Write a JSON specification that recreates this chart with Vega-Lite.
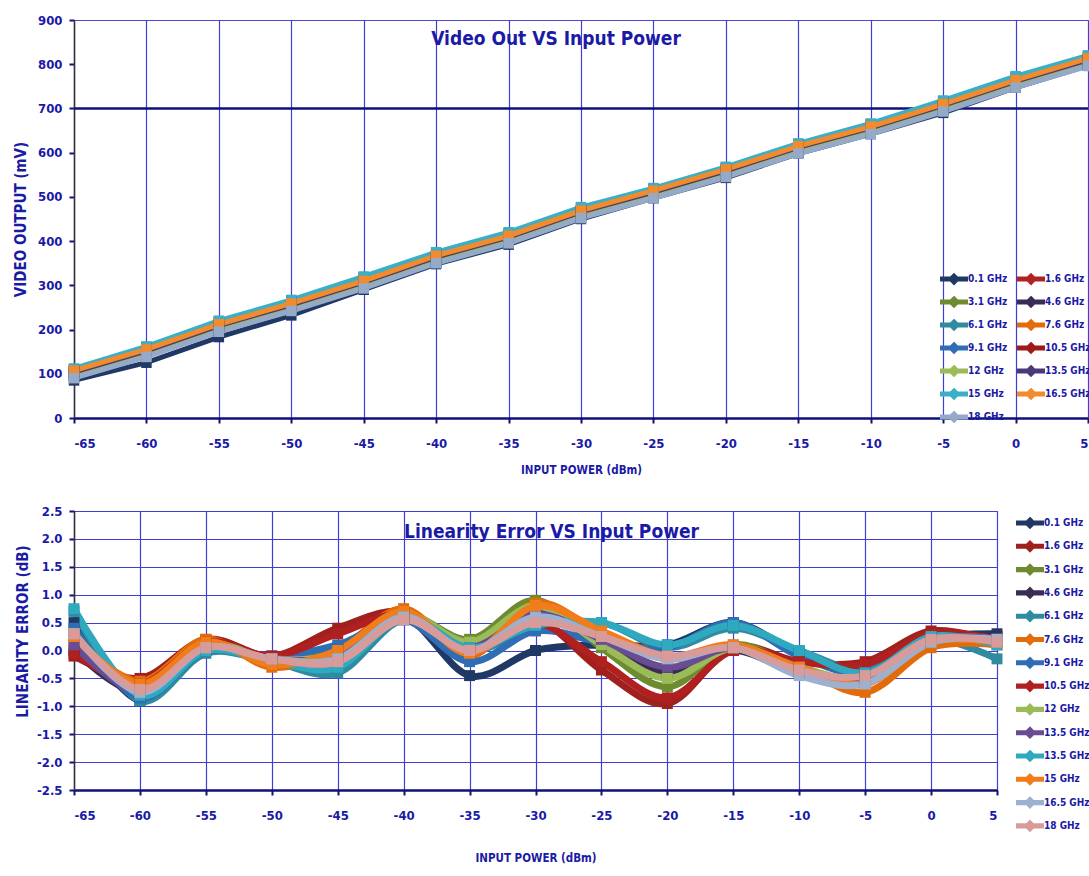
{
  "$schema": "https://vega.github.io/schema/vega-lite/v6.json",
  "background": "white",
  "padding": {"left": 13, "top": 13, "right": 0, "bottom": 0},
  "bounds": "flush",
  "spacing": 93,
  "datasets": {
    "video": [
      {"f":"0.1 GHz","p":-65,"v":85},{"f":"0.1 GHz","p":-60,"v":125},{"f":"0.1 GHz","p":-55,"v":183},{"f":"0.1 GHz","p":-50,"v":232},{"f":"0.1 GHz","p":-45,"v":290},{"f":"0.1 GHz","p":-40,"v":348},{"f":"0.1 GHz","p":-35,"v":392},{"f":"0.1 GHz","p":-30,"v":450},{"f":"0.1 GHz","p":-25,"v":497},{"f":"0.1 GHz","p":-20,"v":543},{"f":"0.1 GHz","p":-15,"v":598},{"f":"0.1 GHz","p":-10,"v":642},{"f":"0.1 GHz","p":-5,"v":690},{"f":"0.1 GHz","p":0,"v":747},{"f":"0.1 GHz","p":5,"v":797},
      {"f":"1.6 GHz","p":-65,"v":110},{"f":"1.6 GHz","p":-60,"v":160},{"f":"1.6 GHz","p":-55,"v":218},{"f":"1.6 GHz","p":-50,"v":265},{"f":"1.6 GHz","p":-45,"v":318},{"f":"1.6 GHz","p":-40,"v":372},{"f":"1.6 GHz","p":-35,"v":416},{"f":"1.6 GHz","p":-30,"v":474},{"f":"1.6 GHz","p":-25,"v":518},{"f":"1.6 GHz","p":-20,"v":566},{"f":"1.6 GHz","p":-15,"v":619},{"f":"1.6 GHz","p":-10,"v":664},{"f":"1.6 GHz","p":-5,"v":716},{"f":"1.6 GHz","p":0,"v":770},{"f":"1.6 GHz","p":5,"v":818},
      {"f":"3.1 GHz","p":-65,"v":97},{"f":"3.1 GHz","p":-60,"v":145},{"f":"3.1 GHz","p":-55,"v":202},{"f":"3.1 GHz","p":-50,"v":249},{"f":"3.1 GHz","p":-45,"v":300},{"f":"3.1 GHz","p":-40,"v":357},{"f":"3.1 GHz","p":-35,"v":402},{"f":"3.1 GHz","p":-30,"v":459},{"f":"3.1 GHz","p":-25,"v":504},{"f":"3.1 GHz","p":-20,"v":552},{"f":"3.1 GHz","p":-15,"v":605},{"f":"3.1 GHz","p":-10,"v":649},{"f":"3.1 GHz","p":-5,"v":700},{"f":"3.1 GHz","p":0,"v":754},{"f":"3.1 GHz","p":5,"v":803},
      {"f":"4.6 GHz","p":-65,"v":102},{"f":"4.6 GHz","p":-60,"v":150},{"f":"4.6 GHz","p":-55,"v":207},{"f":"4.6 GHz","p":-50,"v":254},{"f":"4.6 GHz","p":-45,"v":305},{"f":"4.6 GHz","p":-40,"v":362},{"f":"4.6 GHz","p":-35,"v":407},{"f":"4.6 GHz","p":-30,"v":464},{"f":"4.6 GHz","p":-25,"v":509},{"f":"4.6 GHz","p":-20,"v":557},{"f":"4.6 GHz","p":-15,"v":610},{"f":"4.6 GHz","p":-10,"v":654},{"f":"4.6 GHz","p":-5,"v":705},{"f":"4.6 GHz","p":0,"v":759},{"f":"4.6 GHz","p":5,"v":808},
      {"f":"6.1 GHz","p":-65,"v":95},{"f":"6.1 GHz","p":-60,"v":143},{"f":"6.1 GHz","p":-55,"v":200},{"f":"6.1 GHz","p":-50,"v":247},{"f":"6.1 GHz","p":-45,"v":298},{"f":"6.1 GHz","p":-40,"v":355},{"f":"6.1 GHz","p":-35,"v":400},{"f":"6.1 GHz","p":-30,"v":457},{"f":"6.1 GHz","p":-25,"v":502},{"f":"6.1 GHz","p":-20,"v":550},{"f":"6.1 GHz","p":-15,"v":603},{"f":"6.1 GHz","p":-10,"v":647},{"f":"6.1 GHz","p":-5,"v":698},{"f":"6.1 GHz","p":0,"v":752},{"f":"6.1 GHz","p":5,"v":801},
      {"f":"7.6 GHz","p":-65,"v":106},{"f":"7.6 GHz","p":-60,"v":154},{"f":"7.6 GHz","p":-55,"v":211},{"f":"7.6 GHz","p":-50,"v":258},{"f":"7.6 GHz","p":-45,"v":309},{"f":"7.6 GHz","p":-40,"v":366},{"f":"7.6 GHz","p":-35,"v":411},{"f":"7.6 GHz","p":-30,"v":468},{"f":"7.6 GHz","p":-25,"v":513},{"f":"7.6 GHz","p":-20,"v":561},{"f":"7.6 GHz","p":-15,"v":614},{"f":"7.6 GHz","p":-10,"v":658},{"f":"7.6 GHz","p":-5,"v":709},{"f":"7.6 GHz","p":0,"v":763},{"f":"7.6 GHz","p":5,"v":812},
      {"f":"9.1 GHz","p":-65,"v":92},{"f":"9.1 GHz","p":-60,"v":140},{"f":"9.1 GHz","p":-55,"v":197},{"f":"9.1 GHz","p":-50,"v":244},{"f":"9.1 GHz","p":-45,"v":295},{"f":"9.1 GHz","p":-40,"v":352},{"f":"9.1 GHz","p":-35,"v":397},{"f":"9.1 GHz","p":-30,"v":454},{"f":"9.1 GHz","p":-25,"v":499},{"f":"9.1 GHz","p":-20,"v":547},{"f":"9.1 GHz","p":-15,"v":600},{"f":"9.1 GHz","p":-10,"v":644},{"f":"9.1 GHz","p":-5,"v":695},{"f":"9.1 GHz","p":0,"v":749},{"f":"9.1 GHz","p":5,"v":798},
      {"f":"10.5 GHz","p":-65,"v":108},{"f":"10.5 GHz","p":-60,"v":156},{"f":"10.5 GHz","p":-55,"v":213},{"f":"10.5 GHz","p":-50,"v":260},{"f":"10.5 GHz","p":-45,"v":311},{"f":"10.5 GHz","p":-40,"v":368},{"f":"10.5 GHz","p":-35,"v":413},{"f":"10.5 GHz","p":-30,"v":470},{"f":"10.5 GHz","p":-25,"v":515},{"f":"10.5 GHz","p":-20,"v":563},{"f":"10.5 GHz","p":-15,"v":616},{"f":"10.5 GHz","p":-10,"v":660},{"f":"10.5 GHz","p":-5,"v":711},{"f":"10.5 GHz","p":0,"v":765},{"f":"10.5 GHz","p":5,"v":814},
      {"f":"12 GHz","p":-65,"v":98},{"f":"12 GHz","p":-60,"v":146},{"f":"12 GHz","p":-55,"v":203},{"f":"12 GHz","p":-50,"v":250},{"f":"12 GHz","p":-45,"v":301},{"f":"12 GHz","p":-40,"v":358},{"f":"12 GHz","p":-35,"v":403},{"f":"12 GHz","p":-30,"v":460},{"f":"12 GHz","p":-25,"v":505},{"f":"12 GHz","p":-20,"v":553},{"f":"12 GHz","p":-15,"v":606},{"f":"12 GHz","p":-10,"v":650},{"f":"12 GHz","p":-5,"v":701},{"f":"12 GHz","p":0,"v":755},{"f":"12 GHz","p":5,"v":804},
      {"f":"13.5 GHz","p":-65,"v":104},{"f":"13.5 GHz","p":-60,"v":152},{"f":"13.5 GHz","p":-55,"v":209},{"f":"13.5 GHz","p":-50,"v":256},{"f":"13.5 GHz","p":-45,"v":307},{"f":"13.5 GHz","p":-40,"v":364},{"f":"13.5 GHz","p":-35,"v":409},{"f":"13.5 GHz","p":-30,"v":466},{"f":"13.5 GHz","p":-25,"v":511},{"f":"13.5 GHz","p":-20,"v":559},{"f":"13.5 GHz","p":-15,"v":612},{"f":"13.5 GHz","p":-10,"v":656},{"f":"13.5 GHz","p":-5,"v":707},{"f":"13.5 GHz","p":0,"v":761},{"f":"13.5 GHz","p":5,"v":810},
      {"f":"15 GHz","p":-65,"v":112},{"f":"15 GHz","p":-60,"v":162},{"f":"15 GHz","p":-55,"v":220},{"f":"15 GHz","p":-50,"v":267},{"f":"15 GHz","p":-45,"v":320},{"f":"15 GHz","p":-40,"v":375},{"f":"15 GHz","p":-35,"v":420},{"f":"15 GHz","p":-30,"v":477},{"f":"15 GHz","p":-25,"v":520},{"f":"15 GHz","p":-20,"v":568},{"f":"15 GHz","p":-15,"v":621},{"f":"15 GHz","p":-10,"v":666},{"f":"15 GHz","p":-5,"v":718},{"f":"15 GHz","p":0,"v":773},{"f":"15 GHz","p":5,"v":820},
      {"f":"16.5 GHz","p":-65,"v":107},{"f":"16.5 GHz","p":-60,"v":155},{"f":"16.5 GHz","p":-55,"v":212},{"f":"16.5 GHz","p":-50,"v":259},{"f":"16.5 GHz","p":-45,"v":310},{"f":"16.5 GHz","p":-40,"v":367},{"f":"16.5 GHz","p":-35,"v":412},{"f":"16.5 GHz","p":-30,"v":469},{"f":"16.5 GHz","p":-25,"v":514},{"f":"16.5 GHz","p":-20,"v":562},{"f":"16.5 GHz","p":-15,"v":615},{"f":"16.5 GHz","p":-10,"v":659},{"f":"16.5 GHz","p":-5,"v":710},{"f":"16.5 GHz","p":0,"v":764},{"f":"16.5 GHz","p":5,"v":813},
      {"f":"18 GHz","p":-65,"v":90},{"f":"18 GHz","p":-60,"v":138},{"f":"18 GHz","p":-55,"v":195},{"f":"18 GHz","p":-50,"v":242},{"f":"18 GHz","p":-45,"v":293},{"f":"18 GHz","p":-40,"v":350},{"f":"18 GHz","p":-35,"v":395},{"f":"18 GHz","p":-30,"v":452},{"f":"18 GHz","p":-25,"v":497},{"f":"18 GHz","p":-20,"v":545},{"f":"18 GHz","p":-15,"v":598},{"f":"18 GHz","p":-10,"v":642},{"f":"18 GHz","p":-5,"v":693},{"f":"18 GHz","p":0,"v":747},{"f":"18 GHz","p":5,"v":796}
    ],
    "lin": [
      {"s":"0.1 GHz","p":-65,"e":0.5},{"s":"0.1 GHz","p":-60,"e":-0.9},{"s":"0.1 GHz","p":-55,"e":0.0},{"s":"0.1 GHz","p":-50,"e":-0.15},{"s":"0.1 GHz","p":-45,"e":0.05},{"s":"0.1 GHz","p":-40,"e":0.6},{"s":"0.1 GHz","p":-35,"e":-0.45},{"s":"0.1 GHz","p":-30,"e":0.0},{"s":"0.1 GHz","p":-25,"e":0.1},{"s":"0.1 GHz","p":-20,"e":0.1},{"s":"0.1 GHz","p":-15,"e":0.5},{"s":"0.1 GHz","p":-10,"e":-0.05},{"s":"0.1 GHz","p":-5,"e":-0.4},{"s":"0.1 GHz","p":0,"e":0.2},{"s":"0.1 GHz","p":5,"e":0.3},
      {"s":"1.6 GHz","p":-65,"e":-0.1},{"s":"1.6 GHz","p":-60,"e":-0.5},{"s":"1.6 GHz","p":-55,"e":0.2},{"s":"1.6 GHz","p":-50,"e":-0.1},{"s":"1.6 GHz","p":-45,"e":0.4},{"s":"1.6 GHz","p":-40,"e":0.7},{"s":"1.6 GHz","p":-35,"e":0.05},{"s":"1.6 GHz","p":-30,"e":0.55},{"s":"1.6 GHz","p":-25,"e":-0.35},{"s":"1.6 GHz","p":-20,"e":-0.95},{"s":"1.6 GHz","p":-15,"e":0.05},{"s":"1.6 GHz","p":-10,"e":-0.2},{"s":"1.6 GHz","p":-5,"e":-0.2},{"s":"1.6 GHz","p":0,"e":0.35},{"s":"1.6 GHz","p":5,"e":0.15},
      {"s":"3.1 GHz","p":-65,"e":0.3},{"s":"3.1 GHz","p":-60,"e":-0.7},{"s":"3.1 GHz","p":-55,"e":0.1},{"s":"3.1 GHz","p":-50,"e":-0.15},{"s":"3.1 GHz","p":-45,"e":0.0},{"s":"3.1 GHz","p":-40,"e":0.65},{"s":"3.1 GHz","p":-35,"e":0.2},{"s":"3.1 GHz","p":-30,"e":0.9},{"s":"3.1 GHz","p":-25,"e":0.05},{"s":"3.1 GHz","p":-20,"e":-0.65},{"s":"3.1 GHz","p":-15,"e":0.1},{"s":"3.1 GHz","p":-10,"e":-0.3},{"s":"3.1 GHz","p":-5,"e":-0.5},{"s":"3.1 GHz","p":0,"e":0.2},{"s":"3.1 GHz","p":5,"e":0.2},
      {"s":"4.6 GHz","p":-65,"e":0.0},{"s":"4.6 GHz","p":-60,"e":-0.75},{"s":"4.6 GHz","p":-55,"e":0.05},{"s":"4.6 GHz","p":-50,"e":-0.15},{"s":"4.6 GHz","p":-45,"e":-0.1},{"s":"4.6 GHz","p":-40,"e":0.6},{"s":"4.6 GHz","p":-35,"e":0.05},{"s":"4.6 GHz","p":-30,"e":0.7},{"s":"4.6 GHz","p":-25,"e":0.1},{"s":"4.6 GHz","p":-20,"e":-0.4},{"s":"4.6 GHz","p":-15,"e":0.0},{"s":"4.6 GHz","p":-10,"e":-0.4},{"s":"4.6 GHz","p":-5,"e":-0.45},{"s":"4.6 GHz","p":0,"e":0.15},{"s":"4.6 GHz","p":5,"e":0.25},
      {"s":"6.1 GHz","p":-65,"e":0.7},{"s":"6.1 GHz","p":-60,"e":-0.9},{"s":"6.1 GHz","p":-55,"e":-0.05},{"s":"6.1 GHz","p":-50,"e":-0.2},{"s":"6.1 GHz","p":-45,"e":-0.4},{"s":"6.1 GHz","p":-40,"e":0.55},{"s":"6.1 GHz","p":-35,"e":0.0},{"s":"6.1 GHz","p":-30,"e":0.4},{"s":"6.1 GHz","p":-25,"e":0.5},{"s":"6.1 GHz","p":-20,"e":0.05},{"s":"6.1 GHz","p":-15,"e":0.4},{"s":"6.1 GHz","p":-10,"e":0.0},{"s":"6.1 GHz","p":-5,"e":-0.35},{"s":"6.1 GHz","p":0,"e":0.2},{"s":"6.1 GHz","p":5,"e":-0.15},
      {"s":"7.6 GHz","p":-65,"e":0.2},{"s":"7.6 GHz","p":-60,"e":-0.55},{"s":"7.6 GHz","p":-55,"e":0.2},{"s":"7.6 GHz","p":-50,"e":-0.3},{"s":"7.6 GHz","p":-45,"e":0.0},{"s":"7.6 GHz","p":-40,"e":0.75},{"s":"7.6 GHz","p":-35,"e":-0.1},{"s":"7.6 GHz","p":-30,"e":0.85},{"s":"7.6 GHz","p":-25,"e":0.3},{"s":"7.6 GHz","p":-20,"e":-0.15},{"s":"7.6 GHz","p":-15,"e":0.05},{"s":"7.6 GHz","p":-10,"e":-0.3},{"s":"7.6 GHz","p":-5,"e":-0.75},{"s":"7.6 GHz","p":0,"e":0.05},{"s":"7.6 GHz","p":5,"e":0.1},
      {"s":"9.1 GHz","p":-65,"e":0.4},{"s":"9.1 GHz","p":-60,"e":-0.85},{"s":"9.1 GHz","p":-55,"e":0.0},{"s":"9.1 GHz","p":-50,"e":-0.1},{"s":"9.1 GHz","p":-45,"e":0.1},{"s":"9.1 GHz","p":-40,"e":0.55},{"s":"9.1 GHz","p":-35,"e":-0.2},{"s":"9.1 GHz","p":-30,"e":0.35},{"s":"9.1 GHz","p":-25,"e":0.15},{"s":"9.1 GHz","p":-20,"e":0.05},{"s":"9.1 GHz","p":-15,"e":0.5},{"s":"9.1 GHz","p":-10,"e":-0.1},{"s":"9.1 GHz","p":-5,"e":-0.4},{"s":"9.1 GHz","p":0,"e":0.25},{"s":"9.1 GHz","p":5,"e":0.2},
      {"s":"10.5 GHz","p":-65,"e":-0.05},{"s":"10.5 GHz","p":-60,"e":-0.6},{"s":"10.5 GHz","p":-55,"e":0.15},{"s":"10.5 GHz","p":-50,"e":-0.1},{"s":"10.5 GHz","p":-45,"e":0.3},{"s":"10.5 GHz","p":-40,"e":0.65},{"s":"10.5 GHz","p":-35,"e":0.1},{"s":"10.5 GHz","p":-30,"e":0.5},{"s":"10.5 GHz","p":-25,"e":-0.2},{"s":"10.5 GHz","p":-20,"e":-0.85},{"s":"10.5 GHz","p":-15,"e":0.0},{"s":"10.5 GHz","p":-10,"e":-0.2},{"s":"10.5 GHz","p":-5,"e":-0.25},{"s":"10.5 GHz","p":0,"e":0.3},{"s":"10.5 GHz","p":5,"e":0.2},
      {"s":"12 GHz","p":-65,"e":0.3},{"s":"12 GHz","p":-60,"e":-0.7},{"s":"12 GHz","p":-55,"e":0.1},{"s":"12 GHz","p":-50,"e":-0.15},{"s":"12 GHz","p":-45,"e":-0.05},{"s":"12 GHz","p":-40,"e":0.65},{"s":"12 GHz","p":-35,"e":0.15},{"s":"12 GHz","p":-30,"e":0.8},{"s":"12 GHz","p":-25,"e":0.1},{"s":"12 GHz","p":-20,"e":-0.5},{"s":"12 GHz","p":-15,"e":0.05},{"s":"12 GHz","p":-10,"e":-0.3},{"s":"12 GHz","p":-5,"e":-0.5},{"s":"12 GHz","p":0,"e":0.2},{"s":"12 GHz","p":5,"e":0.2},
      {"s":"13.5 GHz","p":-65,"e":0.1},{"s":"13.5 GHz","p":-60,"e":-0.75},{"s":"13.5 GHz","p":-55,"e":0.05},{"s":"13.5 GHz","p":-50,"e":-0.15},{"s":"13.5 GHz","p":-45,"e":-0.1},{"s":"13.5 GHz","p":-40,"e":0.6},{"s":"13.5 GHz","p":-35,"e":0.05},{"s":"13.5 GHz","p":-30,"e":0.65},{"s":"13.5 GHz","p":-25,"e":0.2},{"s":"13.5 GHz","p":-20,"e":-0.3},{"s":"13.5 GHz","p":-15,"e":0.05},{"s":"13.5 GHz","p":-10,"e":-0.35},{"s":"13.5 GHz","p":-5,"e":-0.5},{"s":"13.5 GHz","p":0,"e":0.2},{"s":"13.5 GHz","p":5,"e":0.2},
      {"s":"13.5 GHz ","p":-65,"e":0.75},{"s":"13.5 GHz ","p":-60,"e":-0.8},{"s":"13.5 GHz ","p":-55,"e":0.0},{"s":"13.5 GHz ","p":-50,"e":-0.2},{"s":"13.5 GHz ","p":-45,"e":-0.3},{"s":"13.5 GHz ","p":-40,"e":0.6},{"s":"13.5 GHz ","p":-35,"e":0.05},{"s":"13.5 GHz ","p":-30,"e":0.45},{"s":"13.5 GHz ","p":-25,"e":0.5},{"s":"13.5 GHz ","p":-20,"e":0.1},{"s":"13.5 GHz ","p":-15,"e":0.45},{"s":"13.5 GHz ","p":-10,"e":0.0},{"s":"13.5 GHz ","p":-5,"e":-0.4},{"s":"13.5 GHz ","p":0,"e":0.25},{"s":"13.5 GHz ","p":5,"e":0.1},
      {"s":"15 GHz","p":-65,"e":0.25},{"s":"15 GHz","p":-60,"e":-0.6},{"s":"15 GHz","p":-55,"e":0.15},{"s":"15 GHz","p":-50,"e":-0.25},{"s":"15 GHz","p":-45,"e":0.0},{"s":"15 GHz","p":-40,"e":0.7},{"s":"15 GHz","p":-35,"e":-0.05},{"s":"15 GHz","p":-30,"e":0.8},{"s":"15 GHz","p":-25,"e":0.35},{"s":"15 GHz","p":-20,"e":-0.1},{"s":"15 GHz","p":-15,"e":0.1},{"s":"15 GHz","p":-10,"e":-0.3},{"s":"15 GHz","p":-5,"e":-0.6},{"s":"15 GHz","p":0,"e":0.15},{"s":"15 GHz","p":5,"e":0.15},
      {"s":"16.5 GHz","p":-65,"e":0.3},{"s":"16.5 GHz","p":-60,"e":-0.75},{"s":"16.5 GHz","p":-55,"e":0.05},{"s":"16.5 GHz","p":-50,"e":-0.15},{"s":"16.5 GHz","p":-45,"e":-0.15},{"s":"16.5 GHz","p":-40,"e":0.6},{"s":"16.5 GHz","p":-35,"e":0.0},{"s":"16.5 GHz","p":-30,"e":0.6},{"s":"16.5 GHz","p":-25,"e":0.25},{"s":"16.5 GHz","p":-20,"e":-0.15},{"s":"16.5 GHz","p":-15,"e":0.05},{"s":"16.5 GHz","p":-10,"e":-0.45},{"s":"16.5 GHz","p":-5,"e":-0.6},{"s":"16.5 GHz","p":0,"e":0.15},{"s":"16.5 GHz","p":5,"e":0.2},
      {"s":"18 GHz","p":-65,"e":0.3},{"s":"18 GHz","p":-60,"e":-0.7},{"s":"18 GHz","p":-55,"e":0.05},{"s":"18 GHz","p":-50,"e":-0.15},{"s":"18 GHz","p":-45,"e":-0.2},{"s":"18 GHz","p":-40,"e":0.55},{"s":"18 GHz","p":-35,"e":0.0},{"s":"18 GHz","p":-30,"e":0.5},{"s":"18 GHz","p":-25,"e":0.25},{"s":"18 GHz","p":-20,"e":-0.1},{"s":"18 GHz","p":-15,"e":0.05},{"s":"18 GHz","p":-10,"e":-0.35},{"s":"18 GHz","p":-5,"e":-0.45},{"s":"18 GHz","p":0,"e":0.2},{"s":"18 GHz","p":5,"e":0.15}
    ]
  },
  "vconcat": [
    {
      "width": 1014,
      "height": 398,
      "title": {"text": "Video Out VS Input Power", "anchor": "middle", "offset": -35, "dx": -25},
      "layer": [
        {"data": {"values": [{}]}, "mark": {"type": "rule", "color": "#10107a", "strokeWidth": 2.5}, "encoding": {"y": {"datum": 700, "type": "quantitative"}}},
        {"data": {"name": "video"}, "mark": {"type": "line", "strokeWidth": 5},
          "encoding": {
            "x": {"field": "p", "type": "quantitative", "scale": {"domain": [-65, 5], "nice": false},
              "axis": {"title": "INPUT POWER (dBm)", "values": [-65,-60,-55,-50,-45,-40,-35,-30,-25,-20,-15,-10,-5,0,5], "labelExpr": "toString(datum.value)", "labelPadding": 14, "titlePadding": 14}},
            "y": {"field": "v", "type": "quantitative", "scale": {"domain": [0, 900], "nice": false},
              "axis": {"title": "VIDEO OUTPUT (mV)", "titleFontSize": 15, "values": [0,100,200,300,400,500,600,700,800,900], "labelPadding": 7, "titlePadding": 9, "domainColor": "#333333", "domainWidth": 1.5}},
            "color": {"field": "f", "type": "nominal",
              "scale": {"domain": ["0.1 GHz","1.6 GHz","3.1 GHz","4.6 GHz","6.1 GHz","7.6 GHz","9.1 GHz","10.5 GHz","12 GHz","13.5 GHz","15 GHz","16.5 GHz","18 GHz"],
                "range": ["#1F3864","#B22222","#6E8B2F","#3B2C54","#2E8BA0","#E36C0A","#2F6EB5","#9E1B1B","#9BBB59","#4B3A78","#3AAFC8","#F38B2C","#95A9C9"]},
              "legend": {"title": null, "orient": "none", "legendX": 866, "legendY": 245, "columns": 2, "direction": "horizontal", "columnPadding": 6, "rowPadding": 0, "symbolType": "M-1,-0.12H1V0.12H-1Z M0,-0.38L0.38,0L0,0.38L-0.38,0Z", "symbolSize": 676, "symbolStrokeWidth": 2, "symbolOpacity": 1, "labelOffset": 0, "padding": 0, "labelFontSize": 10}}
          }},
        {"data": {"name": "video"}, "mark": {"type": "point", "shape": "square", "filled": true, "size": 110, "opacity": 1},
          "encoding": {
            "x": {"field": "p", "type": "quantitative"},
            "y": {"field": "v", "type": "quantitative"},
            "color": {"field": "f", "type": "nominal",
              "legend": {"title": null, "orient": "none", "legendX": 866, "legendY": 245, "columns": 2, "direction": "horizontal", "columnPadding": 6, "rowPadding": 0, "symbolType": "M-1,-0.12H1V0.12H-1Z M0,-0.38L0.38,0L0,0.38L-0.38,0Z", "symbolSize": 676, "symbolStrokeWidth": 2, "symbolOpacity": 1, "labelOffset": 0, "padding": 0, "labelFontSize": 10}}
          }}
      ]
    },
    {
      "width": 923,
      "height": 279,
      "data": {"name": "lin"},
      "title": {"text": "Linearity Error VS Input Power", "anchor": "middle", "offset": -37, "dx": 16},
      "encoding": {
        "x": {"field": "p", "type": "quantitative", "scale": {"domain": [-65, 5], "nice": false},
          "axis": {"title": "INPUT POWER (dBm)", "values": [-65,-60,-55,-50,-45,-40,-35,-30,-25,-20,-15,-10,-5,0,5], "labelExpr": "toString(datum.value)", "labelPadding": 14, "titlePadding": 30}},
        "y": {"field": "e", "type": "quantitative", "scale": {"domain": [-2.5, 2.5], "nice": false},
          "axis": {"title": "LINEARITY ERROR (dB)", "titleFontSize": 15, "values": [-2.5,-2,-1.5,-1,-0.5,0,0.5,1,1.5,2,2.5], "labelExpr": "replace(format(datum.value, '.1f'), '\u2212', '-')", "labelPadding": 7, "titlePadding": 6, "titleY": 120, "domainColor": "#333333", "domainWidth": 1.5}},
        "color": {"field": "s", "type": "nominal",
          "scale": {"domain": ["0.1 GHz","1.6 GHz","3.1 GHz","4.6 GHz","6.1 GHz","7.6 GHz","9.1 GHz","10.5 GHz","12 GHz","13.5 GHz","13.5 GHz ","15 GHz","16.5 GHz","18 GHz"],
            "range": ["#1F3864","#A0201E","#6E8B2F","#3B2C54","#2E8BA0","#E36C0A","#2F6EB5","#B02020","#9BBB59","#6A4C93","#2FA9BF","#F07C1C","#9DB0D0","#D99A9A"]},
          "legend": {"title": null, "orient": "none", "legendX": 942, "legendY": -2, "columns": 1, "rowPadding": 0.3, "symbolType": "M-1,-0.12H1V0.12H-1Z M0,-0.38L0.38,0L0,0.38L-0.38,0Z", "symbolSize": 676, "symbolStrokeWidth": 2, "symbolOpacity": 1, "labelOffset": 0, "padding": 0, "labelFontSize": 10}}
      },
      "layer": [
        {"mark": {"type": "line", "strokeWidth": 7, "interpolate": "cardinal"}},
        {"mark": {"type": "point", "shape": "square", "filled": true, "size": 120, "opacity": 1}}
      ]
    }
  ],
  "resolve": {"scale": {"color": "independent", "x": "independent", "y": "independent"}, "legend": {"color": "independent"}},
  "config": {
    "font": "DejaVu Sans Condensed, Lato, sans-serif",
    "view": {"stroke": "#4a4ad0", "strokeWidth": 1},
    "axis": {
      "labelFont": "DejaVu Sans Condensed, Lato, sans-serif", "labelFontWeight": "bold", "labelFontSize": 13, "labelColor": "#1a1aa6",
      "titleFont": "DejaVu Sans Condensed, Lato, sans-serif", "titleFontWeight": "bold", "titleFontSize": 11.5, "titleColor": "#1a1aa6",
      "gridColor": "#3f3fd4", "gridOpacity": 1, "gridWidth": 1.2,
      "tickColor": "#10107a", "tickSize": 5, "tickWidth": 2,
      "domainColor": "#10107a", "domainWidth": 2.5
    },
    "legend": {"labelFont": "DejaVu Sans Condensed, Lato, sans-serif", "labelFontWeight": "bold", "labelColor": "#1a1aa6", "labelFontSize": 10},
    "title": {"font": "DejaVu Sans Condensed, Lato, sans-serif", "fontWeight": "bold", "fontSize": 19, "color": "#1a1aa6"}
  }
}
